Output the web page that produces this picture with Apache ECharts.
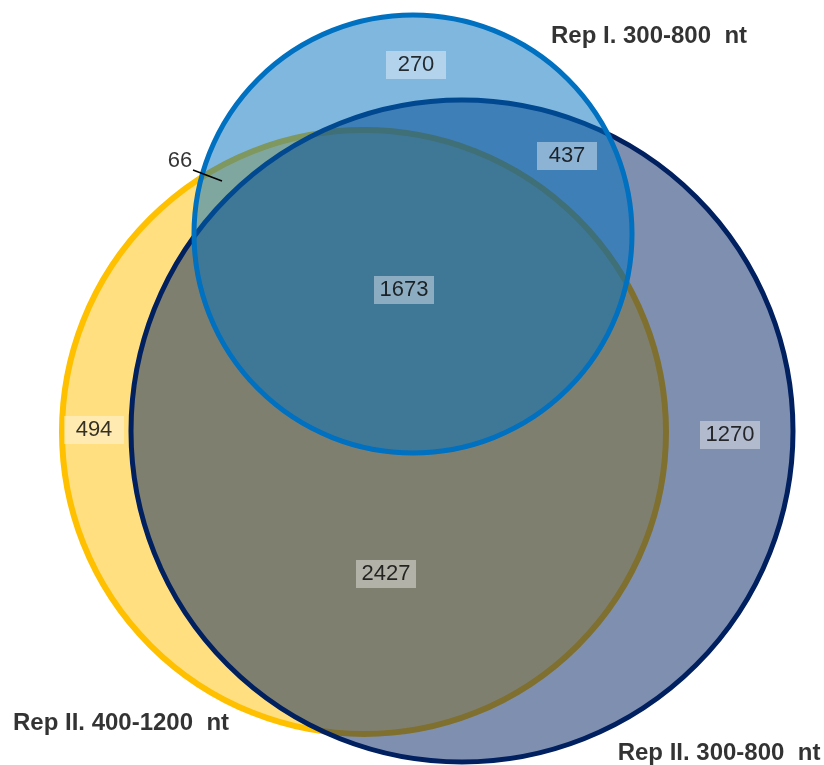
<!DOCTYPE html>
<html>
<head>
<meta charset="utf-8">
<script src="https://cdn.jsdelivr.net/npm/echarts@6/dist/echarts.min.js"></script>
<style>
  html, body { margin: 0; padding: 0; background: #fff; }
  #chart { width: 824px; height: 765px; }
</style>
</head>
<body>
<div id="chart"></div>
<script>
// sets, drawn in this order (yellow, navy, blue)
const setNames = ["Rep II. 400-1200  nt", "Rep II. 300-800  nt", "Rep I. 300-800  nt"];
const setCenterX = [364, 462, 413];
const setCenterY = [432, 431, 234];
const setRadius = [302, 331, 219];
const setFill = ["rgba(255,192,0,0.5)", "rgba(0,32,96,0.5)", "rgba(0,112,192,0.5)"];
const setStroke = ["#FFC000", "#002060", "#0070C0"];
const setLineWidth = [6, 5, 5];
const setNameX = [121, 719, 649];
const setNameY = [723, 753, 36];

// region counts and where their labels sit
const regionCounts = [270, 437, 1673, 494, 1270, 2427];
const regionX = [416, 567, 404, 94, 730, 386];
const regionY = [65, 156, 290, 430, 435, 574];

// the small region gets a leader line instead of a box
const smallCount = 66;
const smallLabelX = 180;
const smallLabelY = 161;
const leaderLine = [[193, 170], [222, 181]];

const chart = echarts.init(document.getElementById("chart"));

const circleData = setNames.map((n, i) => [setCenterX[i], setCenterY[i], setRadius[i], i]);

const plainText = { color: "#000", textBorderWidth: 0, textShadowBlur: 0 };

chart.setOption({
  animation: false,
  grid: { left: 0, right: 0, top: 0, bottom: 0 },
  xAxis: { type: "value", min: 0, max: 824, show: false },
  yAxis: { type: "value", min: 0, max: 765, inverse: true, show: false },
  textStyle: { fontFamily: "Liberation Sans, Arial, sans-serif" },
  series: [
    {
      type: "custom",
      silent: true,
      data: circleData,
      renderItem: function (params, api) {
        const i = api.value(3);
        const c = api.coord([api.value(0), api.value(1)]);
        const r = api.size([api.value(2), 0])[0];
        return {
          type: "circle",
          shape: { cx: c[0], cy: c[1], r: r },
          style: { fill: setFill[i], stroke: setStroke[i], lineWidth: setLineWidth[i] }
        };
      }
    },
    {
      type: "custom",
      silent: true,
      data: [[leaderLine[0][0], leaderLine[0][1], leaderLine[1][0], leaderLine[1][1]]],
      renderItem: function (params, api) {
        const a = api.coord([api.value(0), api.value(1)]);
        const b = api.coord([api.value(2), api.value(3)]);
        return {
          type: "line",
          shape: { x1: a[0], y1: a[1], x2: b[0], y2: b[1] },
          style: { stroke: "#000", lineWidth: 1.5 }
        };
      }
    },
    {
      type: "scatter",
      silent: true,
      symbolSize: 0,
      data: regionCounts.map((v, i) => [regionX[i], regionY[i], v]),
      label: Object.assign({
        show: true,
        position: "inside",
        formatter: p => String(p.value[2]),
        fontSize: 22,
        lineHeight: 22,
        width: 44,
        align: "center",
        padding: [3, 8],
        backgroundColor: "rgba(255,255,255,0.5)"
      }, plainText)
    },
    {
      type: "scatter",
      silent: true,
      symbolSize: 0,
      data: [[smallLabelX, smallLabelY, smallCount]],
      label: Object.assign({
        show: true,
        position: "inside",
        formatter: p => String(p.value[2]),
        fontSize: 22
      }, plainText)
    },
    {
      type: "scatter",
      silent: true,
      symbolSize: 0,
      data: setNames.map((n, i) => [setNameX[i], setNameY[i], n]),
      label: Object.assign({
        show: true,
        position: "inside",
        formatter: p => p.value[2],
        fontSize: 24,
        fontWeight: "bold"
      }, plainText)
    }
  ]
});
</script>
</body>
</html>
